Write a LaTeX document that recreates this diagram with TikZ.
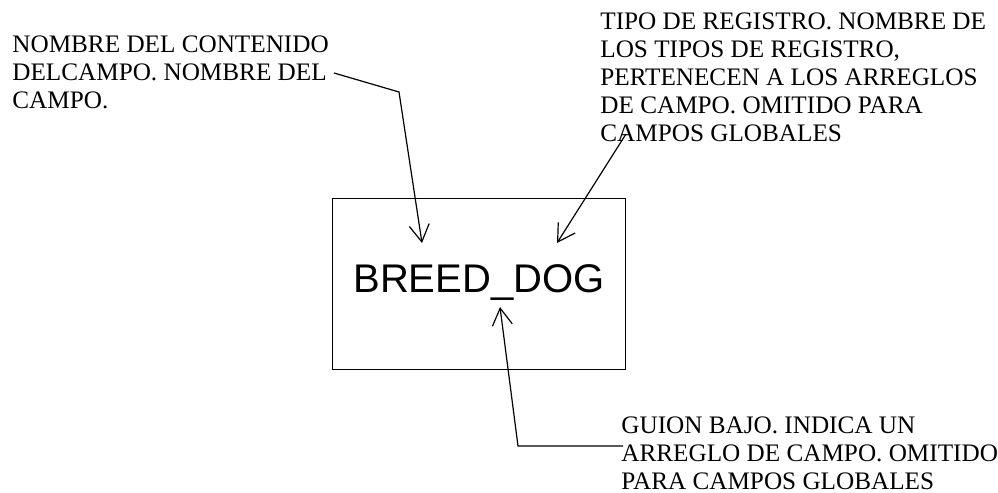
\documentclass[tikz,border=0pt]{standalone}
\usepackage{fontspec}
\setmainfont{Liberation Serif}
\newfontfamily\arialfont{Liberation Sans}
\usetikzlibrary{arrows.meta}

\begin{document}
\begin{tikzpicture}
      [x = 0.5pt, y = -0.5pt,
      note/.style= {
         anchor = north west,
         align = left,
         inner sep = 0pt,
         font = \fontsize{12.6}{14}\selectfont
      },
      fieldbox/.style= {
         draw,
         line width = 0.5pt,
         minimum width = 146.5pt,
         minimum height = 85.5pt,
         inner sep = 0pt
      },
      fieldname/.style= {
         anchor = base,
         inner sep = 0pt,
         font = \arialfont\fontsize{20}{24}\selectfont
      },
      pointer/.style= {
         -{Straight Barb[length = 8.5pt, width = 10pt]},
         line width = 0.6pt
      }]

      \useasboundingbox (0, 0) rectangle (998, 493);

      \node[fieldbox] (field) at (478.5, 283.5) {};
      \node[fieldname] (name) at (479, 292) {BREED\_DOG};

      \node[note] (content) at (12, 35)
         {NOMBRE DEL CONTENIDO\\DELCAMPO. NOMBRE DEL\\CAMPO.};
      \node[note] (record) at (600, 12)
         {TIPO DE REGISTRO. NOMBRE DE\\LOS TIPOS DE REGISTRO,\\PERTENECEN A LOS ARREGLOS\\DE CAMPO. OMITIDO PARA\\CAMPOS GLOBALES};
      \node[note] (under) at (621, 416)
         {GUION BAJO. INDICA UN\\ARREGLO DE CAMPO. OMITIDO\\PARA CAMPOS GLOBALES};

      \coordinate (contentend) at (334, 73);
      \coordinate (contentbend) at (399, 92);
      \coordinate (contenttip) at (422, 243);
      \coordinate (recordend) at (626, 134);
      \coordinate (recordtip) at (557, 243);
      \coordinate (underend) at (623, 446);
      \coordinate (underbend) at (518, 446);
      \coordinate (undertip) at (500, 307);

      \draw[pointer] (contentend) -- (contentbend) -- (contenttip);
      \draw[pointer] (recordend) -- (recordtip);
      \draw[pointer] (underend) -- (underbend) -- (undertip);

   \end{tikzpicture}
\end{document}
